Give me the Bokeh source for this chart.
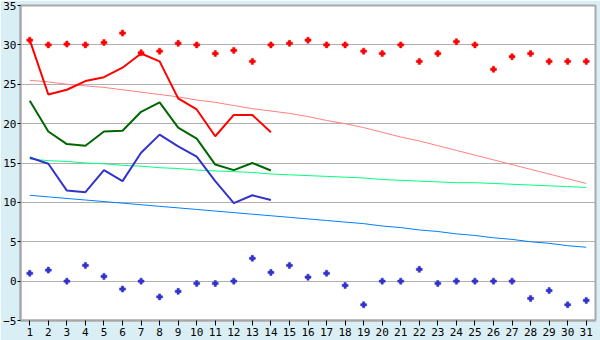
from bokeh.plotting import figure
from bokeh.models import FixedTicker, Range1d
from bokeh.embed import file_html
from bokeh.resources import INLINE

days = list(range(1, 32))

max_pts = [30.6, 30.0, 30.1, 30.0, 30.3, 31.5, 29.0, 29.2, 30.2, 30.0,
           28.9, 29.3, 27.9, 30.0, 30.2, 30.6, 30.0, 30.0, 29.2, 28.9,
           30.0, 27.9, 28.9, 30.4, 30.0, 26.9, 28.5, 28.9, 27.9, 27.9, 27.9]
min_pts = [1.0, 1.4, 0.0, 2.0, 0.6, -1.0, 0.0, -2.0, -1.3, -0.3,
           -0.3, 0.0, 2.9, 1.1, 2.0, 0.5, 1.0, -0.55, -3.0, 0.0,
           0.0, 1.5, -0.3, 0.0, 0.0, 0.0, 0.0, -2.2, -1.2, -3.0, -2.45]

days14 = list(range(1, 15))
max_line = [30.6, 23.7, 24.3, 25.4, 25.9, 27.1, 28.9, 27.9, 23.2, 21.8, 18.4, 21.1, 21.1, 18.9]
mean_line = [22.9, 19.0, 17.4, 17.2, 19.0, 19.1, 21.5, 22.7, 19.5, 18.1, 14.8, 14.1, 15.0, 14.05]
min_line = [15.7, 14.9, 11.5, 11.3, 14.1, 12.7, 16.3, 18.6, 17.1, 15.8, 12.7, 9.9, 10.9, 10.3]

norm_max = [25.5, 25.3, 25.0, 24.8, 24.6, 24.3, 24.0, 23.7, 23.4, 23.0,
            22.7, 22.3, 21.9, 21.6, 21.3, 20.9, 20.4, 20.0, 19.5, 18.9,
            18.3, 17.8, 17.2, 16.6, 16.0, 15.4, 14.8, 14.2, 13.6, 13.0, 12.4]
norm_mean = [15.5, 15.3, 15.2, 15.0, 14.9, 14.7, 14.6, 14.4, 14.3, 14.1,
             14.0, 13.9, 13.8, 13.6, 13.5, 13.4, 13.3, 13.2, 13.1, 12.9,
             12.8, 12.7, 12.6, 12.5, 12.5, 12.4, 12.3, 12.2, 12.1, 12.0, 11.9]
norm_min = [10.9, 10.7, 10.5, 10.3, 10.1, 9.9, 9.7, 9.5, 9.3, 9.1,
            8.9, 8.7, 8.5, 8.3, 8.1, 7.9, 7.7, 7.5, 7.3, 7.0,
            6.8, 6.5, 6.3, 6.0, 5.8, 5.5, 5.3, 5.0, 4.8, 4.5, 4.3]

y_ticks = [-5, 0, 5, 10, 15, 20, 25, 30, 35]

p = figure(width=600, height=340, output_backend="svg", toolbar_location=None,
           x_range=Range1d(0.5, 31.5), y_range=Range1d(-5, 35),
           min_border_left=20, min_border_right=5, min_border_top=5, min_border_bottom=20)

p.border_fill_color = "#DAEFF5"
p.background_fill_color = "white"
p.outline_line_color = "#A8A8A8"
p.outline_line_width = 2

p.xgrid.visible = False
p.ygrid.ticker = FixedTicker(ticks=y_ticks)
p.ygrid.grid_line_color = "#B0B0B0"
p.ygrid.grid_line_width = 1

p.xaxis.ticker = FixedTicker(ticks=days)
p.yaxis.ticker = FixedTicker(ticks=y_ticks)
for ax in (p.xaxis[0], p.yaxis[0]):
    ax.axis_line_color = "#A8A8A8"
    ax.axis_line_width = 2
    ax.major_tick_line_color = "black"
    ax.minor_tick_line_color = None
    ax.major_label_text_font = "DejaVu Sans Mono"
    ax.major_label_text_font_size = "11px"
    ax.major_label_text_color = "black"
    ax.major_tick_in = 0
p.xaxis.major_tick_out = 5
p.xaxis.major_label_standoff = 2
p.yaxis.major_tick_out = 3
p.yaxis.major_label_standoff = 1

p.line(days, norm_max, line_color="#FF8080", line_width=1)
p.line(days, norm_mean, line_color="#00FF80", line_width=1)
p.line(days, norm_min, line_color="#0080FF", line_width=1)

p.line(days14, max_line, line_color="#FF0000", line_width=2)
p.line(days14, mean_line, line_color="#006600", line_width=2)
p.line(days14, min_line, line_color="#3333CC", line_width=2)

for vals, col in ((max_pts, "#FF0000"), (min_pts, "#3333CC")):
    p.scatter(days, vals, marker="plus", size=6, fill_color=col, line_color=col, line_width=0.5)
    p.scatter(days, vals, marker="circle", size=3.5, fill_color=col, line_color=col, line_width=0.5)

open("out.html", "w").write(file_html(p, INLINE))
